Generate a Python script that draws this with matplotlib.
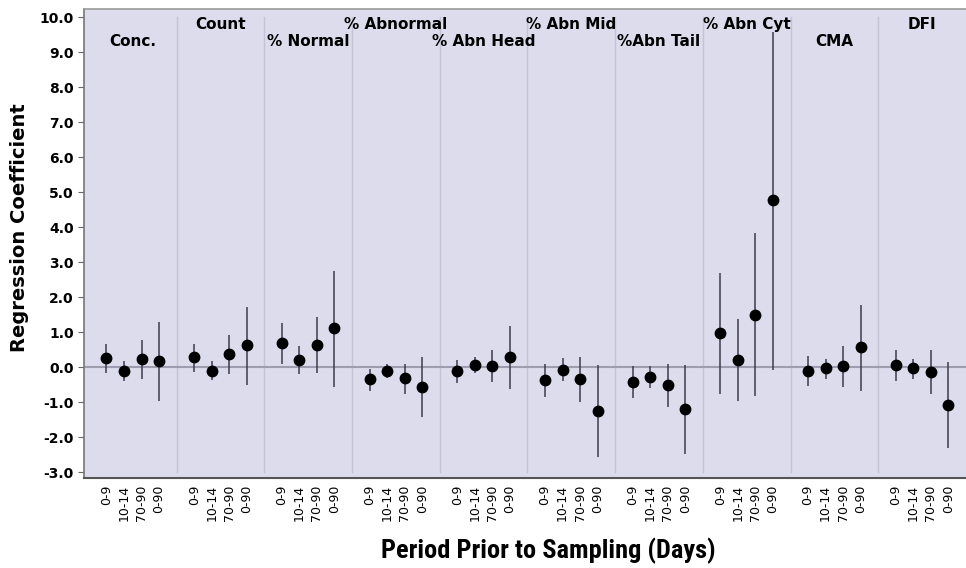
import matplotlib
matplotlib.use("Agg")
import matplotlib.pyplot as plt
from matplotlib import font_manager
import numpy as np

groups = ["Conc.", "Count", "% Normal", "% Abnormal", "% Abn Head",
          "% Abn Mid", "%Abn Tail", "% Abn Cyt", "CMA", "DFI"]
periods = ["0-9", "10-14", "70-90", "0-90"]

coef = [
    [0.26, -0.11, 0.23, 0.16],
    [0.29, -0.10, 0.37, 0.62],
    [0.68, 0.20, 0.64, 1.11],
    [-0.35, -0.10, -0.31, -0.57],
    [-0.11, 0.06, 0.04, 0.28],
    [-0.37, -0.07, -0.33, -1.25],
    [-0.43, -0.27, -0.50, -1.20],
    [0.97, 0.20, 1.50, 4.77],
    [-0.10, -0.03, 0.04, 0.56],
    [0.06, -0.03, -0.14, -1.07],
]
ci_low = [
    [-0.17, -0.40, -0.33, -0.97],
    [-0.14, -0.38, -0.19, -0.51],
    [0.10, -0.21, -0.17, -0.57],
    [-0.69, -0.31, -0.76, -1.44],
    [-0.46, -0.17, -0.43, -0.64],
    [-0.86, -0.41, -1.00, -2.57],
    [-0.89, -0.60, -1.14, -2.48],
    [-0.78, -0.98, -0.83, -0.07],
    [-0.54, -0.33, -0.57, -0.69],
    [-0.40, -0.34, -0.76, -2.31],
]
ci_high = [
    [0.66, 0.16, 0.78, 1.30],
    [0.67, 0.16, 0.93, 1.73],
    [1.27, 0.60, 1.43, 2.75],
    [-0.05, 0.10, 0.09, 0.29],
    [0.19, 0.29, 0.48, 1.16],
    [0.10, 0.25, 0.30, 0.05],
    [0.03, 0.04, 0.10, 0.05],
    [2.70, 1.36, 3.83, 9.57],
    [0.31, 0.24, 0.61, 1.77],
    [0.49, 0.24, 0.49, 0.14],
]
yticks = [-3, -2, -1, 0, 1, 2, 3, 4, 5, 6, 7, 8, 9, 10]

# pick a condensed bold font for the x-axis title if one is installed
names = {f.name for f in font_manager.fontManager.ttflist}
xl_family = ["DejaVu Sans"]
xl_stretch = "normal"
for cand in ["Liberation Sans Narrow", "DejaVu Sans Condensed", "Roboto Condensed",
             "Open Sans Condensed"]:
    if cand in names:
        xl_family = [cand, "DejaVu Sans"]
        break
else:
    xl_stretch = "condensed"

bg = "#dcdcec"
fig = plt.figure(figsize=(9.66, 5.68), dpi=100)
ax = fig.add_axes([84 / 966, 1 - 478 / 568, 1 - 84 / 966, (478 - 9) / 568])
ax.set_facecolor(bg)

n_per = len(periods)
width = n_per + 1
xs_all, labels_all = [], []
for g, name in enumerate(groups):
    base = g * width
    xs = [base + 1 + i for i in range(n_per)]
    xs_all += xs
    labels_all += periods
    for i, x in enumerate(xs):
        ax.plot([x, x], [ci_low[g][i], ci_high[g][i]], color="#3c3c4c",
                lw=1.1, zorder=3, solid_capstyle="butt")
    ax.plot(xs, coef[g], "o", color="black", ms=7.5, zorder=4, ls="none")
    if g > 0:
        ax.plot([base, base], [yticks[0], yticks[-1]], color="#c6c2d6",
                lw=1.0, zorder=1)
    ty = 9.8 if g % 2 == 1 else 9.29
    ax.text(base + width / 2, ty, name, ha="center", va="center",
            fontsize=11, fontweight="bold", family="DejaVu Sans", zorder=5)

ax.axhline(0, color="#a09cb0", lw=1.5, zorder=2)

ax.set_xlim(-0.28, len(groups) * width + 0.0)
ax.set_ylim(-3.17, 10.23)
ax.set_yticks(yticks)
ax.set_yticklabels([f"{v:.1f}" for v in yticks], fontsize=10,
                   fontweight="bold")
ax.set_xticks(xs_all)
ax.set_xticklabels(labels_all, rotation=90, fontsize=9, va="top")
ax.tick_params(axis="x", length=0, pad=5)
ax.tick_params(axis="y", length=4, color="#666666", width=0.8)

ax.spines["right"].set_visible(False)
ax.spines["top"].set_color("#9a9a9a")
ax.spines["left"].set_color("#777777")
ax.spines["bottom"].set_color("#555555")
ax.spines["left"].set_linewidth(1.2)
ax.spines["bottom"].set_linewidth(1.5)
ax.spines["top"].set_linewidth(1.2)

fig.text(20 / 966, 1 - 228 / 568, "Regression Coefficient", rotation=90,
         ha="center", va="center", fontsize=14, fontweight="bold")
fig.text(548 / 966, 1 - 551 / 568, "Period Prior to Sampling (Days)",
         ha="center", va="center", fontsize=19, fontweight="bold",
         family=xl_family, fontstretch=xl_stretch)

fig.savefig("out.png", dpi=100)
